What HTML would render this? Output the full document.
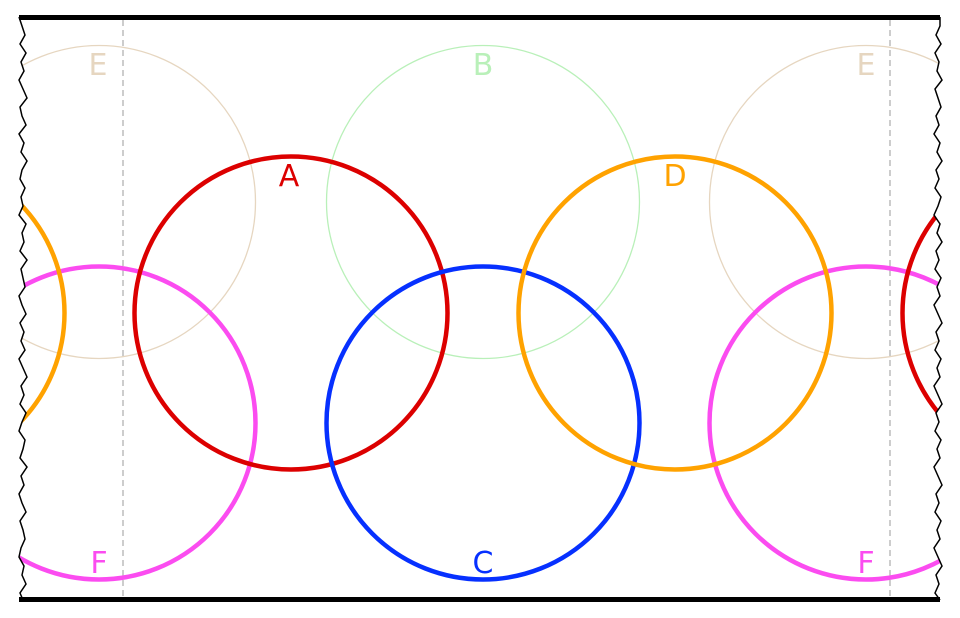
<!DOCTYPE html>
<html><head><meta charset="utf-8"><style>
html,body{margin:0;padding:0;background:#fff;}
svg{display:block;}
text{font-family:"DejaVu Sans","Liberation Sans",sans-serif;font-size:30px;text-anchor:middle;}
</style></head><body>
<svg width="960" height="618" viewBox="0 0 960 618" xmlns="http://www.w3.org/2000/svg">
<defs>
<clipPath id="cp">
<polygon points="19,17 22,26 25,35 20,44 26,53 21,62 24,71 19,80 23,89 27,98 20,107 22,116 26,125 19,134 24,143 21,152 27,161 22,170 20,179 25,188 21,197 23,206 19,215 26,224 22,233 24,242 20,251 27,260 21,269 23,278 25,287 19,296 22,305 26,314 20,323 24,332 21,341 25,350 19,359 23,368 27,377 21,386 24,395 20,404 26,413 22,422 19,431 25,440 23,449 20,458 27,467 21,476 24,485 19,494 22,503 26,512 20,521 23,530 25,539 21,548 19,557 24,566 22,575 26,584 20,593 23,600 940,600 935,593 939,584 936,575 942,566 938,557 934,548 940,539 937,530 941,521 935,512 939,503 936,494 942,485 938,476 934,467 940,458 937,449 941,440 935,431 939,422 936,413 942,404 938,395 934,386 940,377 937,368 941,359 935,350 939,341 936,332 942,323 938,314 934,305 940,296 937,287 941,278 935,269 939,260 936,251 942,242 937,233 940,224 934,215 938,206 941,197 935,188 939,179 936,170 942,161 937,152 940,143 934,134 939,125 936,116 941,107 938,98 935,89 942,80 937,71 939,62 935,53 941,44 936,35 940,26 940,17"/>
</clipPath>
</defs>
<g clip-path="url(#cp)" fill="none">
<circle cx="99" cy="202" r="156.5" stroke="#e6d6c0" stroke-width="1.3"/>
<circle cx="866" cy="202" r="156.5" stroke="#e6d6c0" stroke-width="1.3"/>
<circle cx="483" cy="202" r="156.5" stroke="#b9f0b9" stroke-width="1.3"/>
<line x1="123" y1="20" x2="123" y2="597" stroke="#bcbcbc" stroke-width="1.5" stroke-dasharray="6,4"/>
<line x1="890" y1="20" x2="890" y2="597" stroke="#bcbcbc" stroke-width="1.5" stroke-dasharray="6,4"/>
<circle cx="99" cy="423" r="156.5" stroke="#fb4cf0" stroke-width="4.5"/>
<circle cx="866" cy="423" r="156.5" stroke="#fb4cf0" stroke-width="4.5"/>
<circle cx="291" cy="313" r="156.5" stroke="#dc0000" stroke-width="4.5"/>
<circle cx="1059" cy="313" r="156.5" stroke="#dc0000" stroke-width="4.5"/>
<circle cx="483" cy="423" r="156.5" stroke="#0630ff" stroke-width="4.5"/>
<circle cx="675" cy="313" r="156.5" stroke="#ffa200" stroke-width="4.5"/>
<circle cx="-92" cy="313" r="156.5" stroke="#ffa200" stroke-width="4.5"/>
</g>
<polyline fill="none" stroke="#000" stroke-width="1.5" points="19,17 22,26 25,35 20,44 26,53 21,62 24,71 19,80 23,89 27,98 20,107 22,116 26,125 19,134 24,143 21,152 27,161 22,170 20,179 25,188 21,197 23,206 19,215 26,224 22,233 24,242 20,251 27,260 21,269 23,278 25,287 19,296 22,305 26,314 20,323 24,332 21,341 25,350 19,359 23,368 27,377 21,386 24,395 20,404 26,413 22,422 19,431 25,440 23,449 20,458 27,467 21,476 24,485 19,494 22,503 26,512 20,521 23,530 25,539 21,548 19,557 24,566 22,575 26,584 20,593 23,600"/>
<polyline fill="none" stroke="#000" stroke-width="1.5" points="940,600 935,593 939,584 936,575 942,566 938,557 934,548 940,539 937,530 941,521 935,512 939,503 936,494 942,485 938,476 934,467 940,458 937,449 941,440 935,431 939,422 936,413 942,404 938,395 934,386 940,377 937,368 941,359 935,350 939,341 936,332 942,323 938,314 934,305 940,296 937,287 941,278 935,269 939,260 936,251 942,242 937,233 940,224 934,215 938,206 941,197 935,188 939,179 936,170 942,161 937,152 940,143 934,134 939,125 936,116 941,107 938,98 935,89 942,80 937,71 939,62 935,53 941,44 936,35 940,26 940,17"/>
<line x1="19" y1="17.5" x2="940" y2="17.5" stroke="#000" stroke-width="5"/>
<line x1="19" y1="599.5" x2="940" y2="599.5" stroke="#000" stroke-width="5"/>
<text x="98" y="75" fill="#e6d6c0">E</text>
<text x="866" y="75" fill="#e6d6c0">E</text>
<text x="483" y="75" fill="#b9f0b9">B</text>
<text x="289" y="186" fill="#dc0000">A</text>
<text x="675" y="186" fill="#ffa200">D</text>
<text x="483" y="573" fill="#0630ff">C</text>
<text x="99" y="573" fill="#fb4cf0">F</text>
<text x="866" y="573" fill="#fb4cf0">F</text>
</svg>
</body></html>
